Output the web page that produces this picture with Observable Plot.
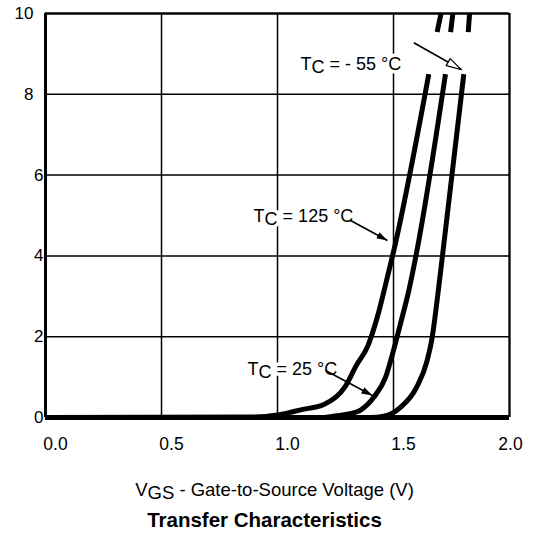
<!DOCTYPE html>
<html><head><meta charset="utf-8">
<script src="https://cdn.jsdelivr.net/npm/d3@7"></script>
<script src="https://cdn.jsdelivr.net/npm/@observablehq/plot@0.6"></script>
<style>body{margin:0;background:#fff} svg{display:block}</style>
</head><body><div id="chart"></div>
<script>
// Axis ticks
const xTicks = [0, 0.5, 1, 1.5, 2];
const yTicks = [0, 2, 4, 6, 8, 10];

// Curves (VGS in V, ID in A); null marks the gap behind the -55 °C label
const seriesNames = ["125 °C", "25 °C", "-55 °C"];
const vgs125 = [0, 0.90, 1.00, 1.05, 1.10, 1.20, 1.29, 1.34, 1.39, 1.43, 1.47, 1.50, 1.652, null, 1.688, 1.705];
const id125  = [0, 0.01, 0.06, 0.12, 0.19, 0.32, 0.75, 1.29, 1.78, 2.48, 3.39, 4.10, 8.50, null, 9.54, 10];
const vgs25  = [0, 1.20, 1.24, 1.30, 1.36, 1.415, 1.466, 1.50, 1.53, 1.566, 1.60, 1.724, null, 1.746, 1.756];
const id25   = [0, 0.00, 0.03, 0.08, 0.19, 0.50, 1.00, 1.66, 2.32, 3.14, 4.10, 8.50, null, 9.54, 10];
const vgsM55 = [0, 1.40, 1.458, 1.53, 1.60, 1.645, 1.667, 1.688, 1.71, 1.803, null, 1.822, 1.828];
const idM55  = [0, 0.00, 0.03, 0.25, 0.75, 1.41, 1.99, 2.90, 3.95, 8.50, null, 9.54, 10];

// Annotations
const labelText = ["TC = - 55 °C", "TC = 125 °C", "TC = 25 °C"];
const labelX = [1.099, 0.897, 0.871];
const labelY = [8.59, 4.827, 1.04];
const arrowX1 = [1.5875, 1.315, 1.207];
const arrowY1 = [9.275, 4.876, 1.163];
const arrowX2 = [1.792, 1.474, 1.409];
const arrowY2 = [8.614, 4.381, 0.545];

const xLabel = "VGS - Gate-to-Source Voltage (V)";
const chartTitle = "Transfer Characteristics";

const curves = [];
[[vgs125, id125], [vgs25, id25], [vgsM55, idM55]].forEach(([xs, ys], k) => {
  xs.forEach((v, i) => curves.push({series: seriesNames[k], x: v, y: ys[i]}));
});
const labels = labelText.map((t, i) => ({t, x: labelX[i], y: labelY[i]}));
const arrows = arrowX1.map((v, i) => ({x1: v, y1: arrowY1[i], x2: arrowX2[i], y2: arrowY2[i]}));

const font = "'Liberation Sans', Arial, sans-serif";
const xMin = xTicks[0], xMax = xTicks[xTicks.length - 1];
const yMin = yTicks[0], yMax = yTicks[yTicks.length - 1];

const plot = Plot.plot({
  width: 538, height: 537,
  marginLeft: 45, marginRight: 29, marginTop: 13, marginBottom: 120,
  style: {fontFamily: font, background: "#fff", color: "#000", overflow: "visible"},
  x: {domain: [xMin, xMax]},
  y: {domain: [yMin, yMax]},
  marks: [
    // gridlines
    Plot.ruleX(xTicks.slice(1, -1), {stroke: "#000", strokeWidth: 1.5}),
    Plot.ruleY(yTicks.slice(1, -1), {stroke: "#000", strokeWidth: 1.5}),
    // frame
    Plot.ruleX([xMin], {stroke: "#000", strokeWidth: 3}),
    Plot.ruleX([xMax], {stroke: "#000", strokeWidth: 2.3}),
    Plot.ruleY([yMax], {stroke: "#000", strokeWidth: 2.3}),
    // axes
    Plot.axisX(xTicks.slice(0, -1), {tickSize: 0, tickPadding: 20, dx: 10, fontSize: 17.5, tickFormat: d => d.toFixed(1), label: null}),
    Plot.axisX(xTicks.slice(-1), {tickSize: 0, tickPadding: 20, dx: 1, fontSize: 17.5, tickFormat: d => d.toFixed(1), label: null}),
    Plot.axisY(yTicks.filter(d => d >= 8), {tickSize: 0, tickPadding: 12, fontSize: 17, label: null}),
    Plot.axisY(yTicks.filter(d => d < 8), {tickSize: 0, tickPadding: 2, fontSize: 17, label: null}),
    // labels with white halo
    Plot.text(labels, {x: "x", y: "y", text: "t", textAnchor: "start", lineAnchor: "bottom",
      fontSize: 18, fill: "#000", stroke: "#fff", strokeWidth: 7}),
    // curves
    Plot.line(curves, {x: "x", y: "y", z: "series", curve: "monotone-x", stroke: "#000", strokeWidth: 5, strokeLinecap: "butt", strokeLinejoin: "round"}),
    Plot.ruleY([yMin], {stroke: "#000", strokeWidth: 5}),
    // arrows
    Plot.link(arrows, {x1: "x1", y1: "y1", x2: "x2", y2: "y2", stroke: "#000", strokeWidth: 1.6}),
    // axis title and chart title
    Plot.text([xLabel], {frameAnchor: "bottom", dx: -3, dy: 78, lineAnchor: "bottom", fontSize: 18.5, fill: "#000"}),
    Plot.text([chartTitle], {frameAnchor: "bottom", dx: -13, dy: 109, lineAnchor: "bottom", fontSize: 20.5, fontWeight: "bold", fill: "#000"})
  ]
});

// subscripts
const ns = "http://www.w3.org/2000/svg";
function sub(t, a, b, c) {
  t.textContent = "";
  const s1 = document.createElementNS(ns, "tspan"); s1.textContent = a;
  const s2 = document.createElementNS(ns, "tspan"); s2.setAttribute("dy", "3"); s2.textContent = b;
  const s3 = document.createElementNS(ns, "tspan"); s3.setAttribute("dy", "-3"); s3.textContent = c;
  t.append(s1, s2, s3);
}
plot.querySelectorAll("text").forEach(t => {
  const s = t.textContent;
  if (s.startsWith("TC")) sub(t, "T", "C", s.slice(2));
  else if (s.startsWith("VGS")) sub(t, "V", "GS", s.slice(3));
});

// arrowheads
const defs = document.createElementNS(ns, "defs");
defs.innerHTML = `
<marker id="headOpen" markerUnits="userSpaceOnUse" viewBox="0 0 17 10" markerWidth="17" markerHeight="10" refX="16" refY="5" orient="auto">
  <path d="M1,1 L16,5 L1,9 Z" fill="#fff" stroke="#000" stroke-width="1.2"/></marker>
<marker id="headFill" markerUnits="userSpaceOnUse" viewBox="0 0 11 7" markerWidth="11" markerHeight="7" refX="11" refY="3.5" orient="auto">
  <path d="M0,0 L11,3.5 L0,7 Z" fill="#000"/></marker>`;
plot.prepend(defs);
plot.querySelectorAll('g[aria-label="link"] path').forEach((p, i) => {
  p.setAttribute("marker-end", i === 0 ? "url(#headOpen)" : "url(#headFill)");
});

document.getElementById("chart").append(plot);
</script>
</body></html>
